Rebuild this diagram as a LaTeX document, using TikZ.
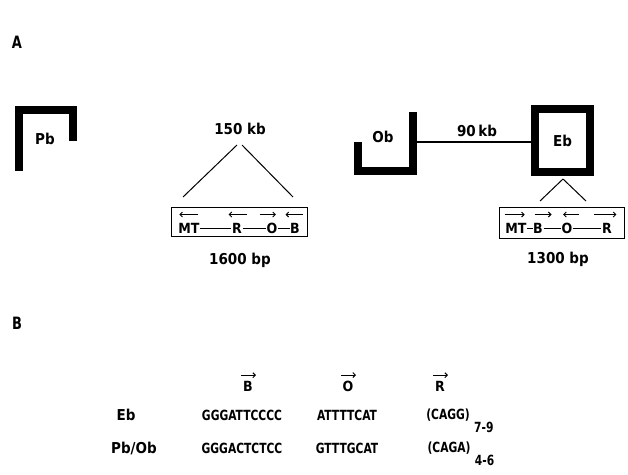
\documentclass[tikz,border=0pt]{standalone}
\usepackage{fontspec}
\setmainfont{DejaVu Sans Condensed}
\newfontfamily\narrowfont[FakeStretch=0.85]{DejaVu Sans Condensed}
\usetikzlibrary{arrows.meta,positioning}

\begin{document}
\begin{tikzpicture}[
  x=1pt, y=-1pt,
  panel/.style={font=\narrowfont\bfseries\fontsize{17}{19}\selectfont, inner sep=0pt},
  lbl/.style={font=\bfseries\fontsize{15}{17}\selectfont, inner sep=0pt},
  site/.style={font=\bfseries\fontsize{14}{16}\selectfont, inner sep=0.5pt},
  seq/.style={font=\narrowfont\bfseries\fontsize{14}{16}\selectfont, inner sep=0pt},
  gene/.style={line width=8pt, line join=miter},
  region/.style={draw, line width=1pt, inner sep=0pt},
  link/.style={line width=1pt},
  arr/.style={-{Straight Barb[length=2.5pt,width=5pt]}, line width=1pt}
]
\useasboundingbox (0,0) rectangle (628,474);

% panel A
\node[panel] (pA) at (17,42) {A};

% Pb
\draw[gene] (18.5,171) -- (18.5,110) -- (73,110) -- (73,141);
\node[lbl] (pb) at (45,139) {Pb};

% Ob and Eb
\draw[gene] (358,142) -- (358,171) -- (412.5,171) -- (412.5,112);
\node[lbl] (ob) at (383,137) {Ob};
\node[draw, gene, minimum width=55pt, minimum height=63pt, inner sep=0pt] (ebbox) at (562.5,140.5) {};
\node[lbl] (eb) at (ebbox.center) {Eb};
\coordinate (obend) at (416.5,142);
\draw[line width=1.5pt] (obend) -- (ebbox.west |- obend);
\node[lbl] (kb90) at (477,131) {90\,kb};

% left region, 150 kb
\node[lbl] (kb150) at (240,129) {150 kb};
\coordinate (fanL) at (237,145);
\coordinate (fanR) at (242,145);
\coordinate (footL) at (183,197);
\coordinate (footR) at (293,197);
\draw[link] (fanL) -- (footL);
\draw[link] (fanR) -- (footR);

\node[region, minimum width=136pt, minimum height=29pt] (box1) at (239,221.5) {};
\node[site] (mt1) at (189,228) {MT};
\node[site] (r1) at (237,228) {R};
\node[site] (o1) at (272,228) {O};
\node[site] (b1) at (295,228) {B};
\draw[link] (mt1.east) -- (r1.west);
\draw[link] (r1.east) -- (o1.west);
\draw[link] (o1.east) -- (b1.west);
\draw[arr] (mt1.east |- box1.north) ++(-2,8) -- ++(-19,0);
\draw[arr] (r1.east |- box1.north) ++(4,8) -- ++(-18,0);
\draw[arr] (o1.west |- box1.north) ++(-6,8) -- ++(16,0);
\draw[arr] (b1.east |- box1.north) ++(2,8) -- ++(-17,0);
\node[lbl] (bp1600) at (240,260) {1600 bp};

% right region, 1300 bp
\coordinate (ebfoot) at (563,179);
\coordinate (footL2) at (540,201);
\coordinate (footR2) at (586,201);
\draw[link] (ebfoot) -- (footL2);
\draw[link] (ebfoot) -- (footR2);

\node[region, minimum width=125pt, minimum height=31pt] (box2) at (561.5,222.5) {};
\node[site] (mt2) at (516,228) {MT};
\node[site] (b2) at (538,228) {B};
\node[site] (o2) at (567,228) {O};
\node[site] (r2) at (607,228) {R};
\draw[link] (mt2.east) -- (b2.west);
\draw[link] (b2.east) -- (o2.west);
\draw[link] (o2.east) -- (r2.west);
\draw[arr] (mt2.west |- box2.north) ++(0,8) -- ++(20,0);
\draw[arr] (b2.west |- box2.north) ++(2,8) -- ++(17,0);
\draw[arr] (o2.east |- box2.north) ++(6,8) -- ++(-16,0);
\draw[arr] (r2.west |- box2.north) ++(-7,8) -- ++(22,0);
\node[lbl] (bp1300) at (558,259) {1300 bp};

% panel B
\node[panel] (pB) at (17,323) {B};

\node[site] (sB) at (248,386) {B};
\node[site] (sO) at (348,386) {O};
\node[site] (sR) at (440,386) {R};
\foreach \s in {sB,sO,sR}
  \draw[arr] (\s.north) ++(-7,-5) -- ++(15,0);

\node[lbl] (eb2) at (126,415) {Eb};
\node[seq] (ebB) at (242,415) {GGGATTCCCC};
\node[seq] (ebO) at (347,415) {ATTTTCAT};
\node[seq] (ebR) at (448,415) {(CAGG)};
\node[seq, anchor=west, yshift=-6pt] (ebn) at ([xshift=4pt]ebR.south east) {7-9};

\node[lbl] (pbob) at (134,448) {Pb/Ob};
\node[seq] (pbB) at (242,448) {GGGACTCTCC};
\node[seq] (pbO) at (347,448) {GTTTGCAT};
\node[seq] (pbR) at (449,448) {(CAGA)};
\node[seq, anchor=west, yshift=-6pt] (pbn) at ([xshift=4pt]pbR.south east) {4-6};
\end{tikzpicture}
\end{document}
